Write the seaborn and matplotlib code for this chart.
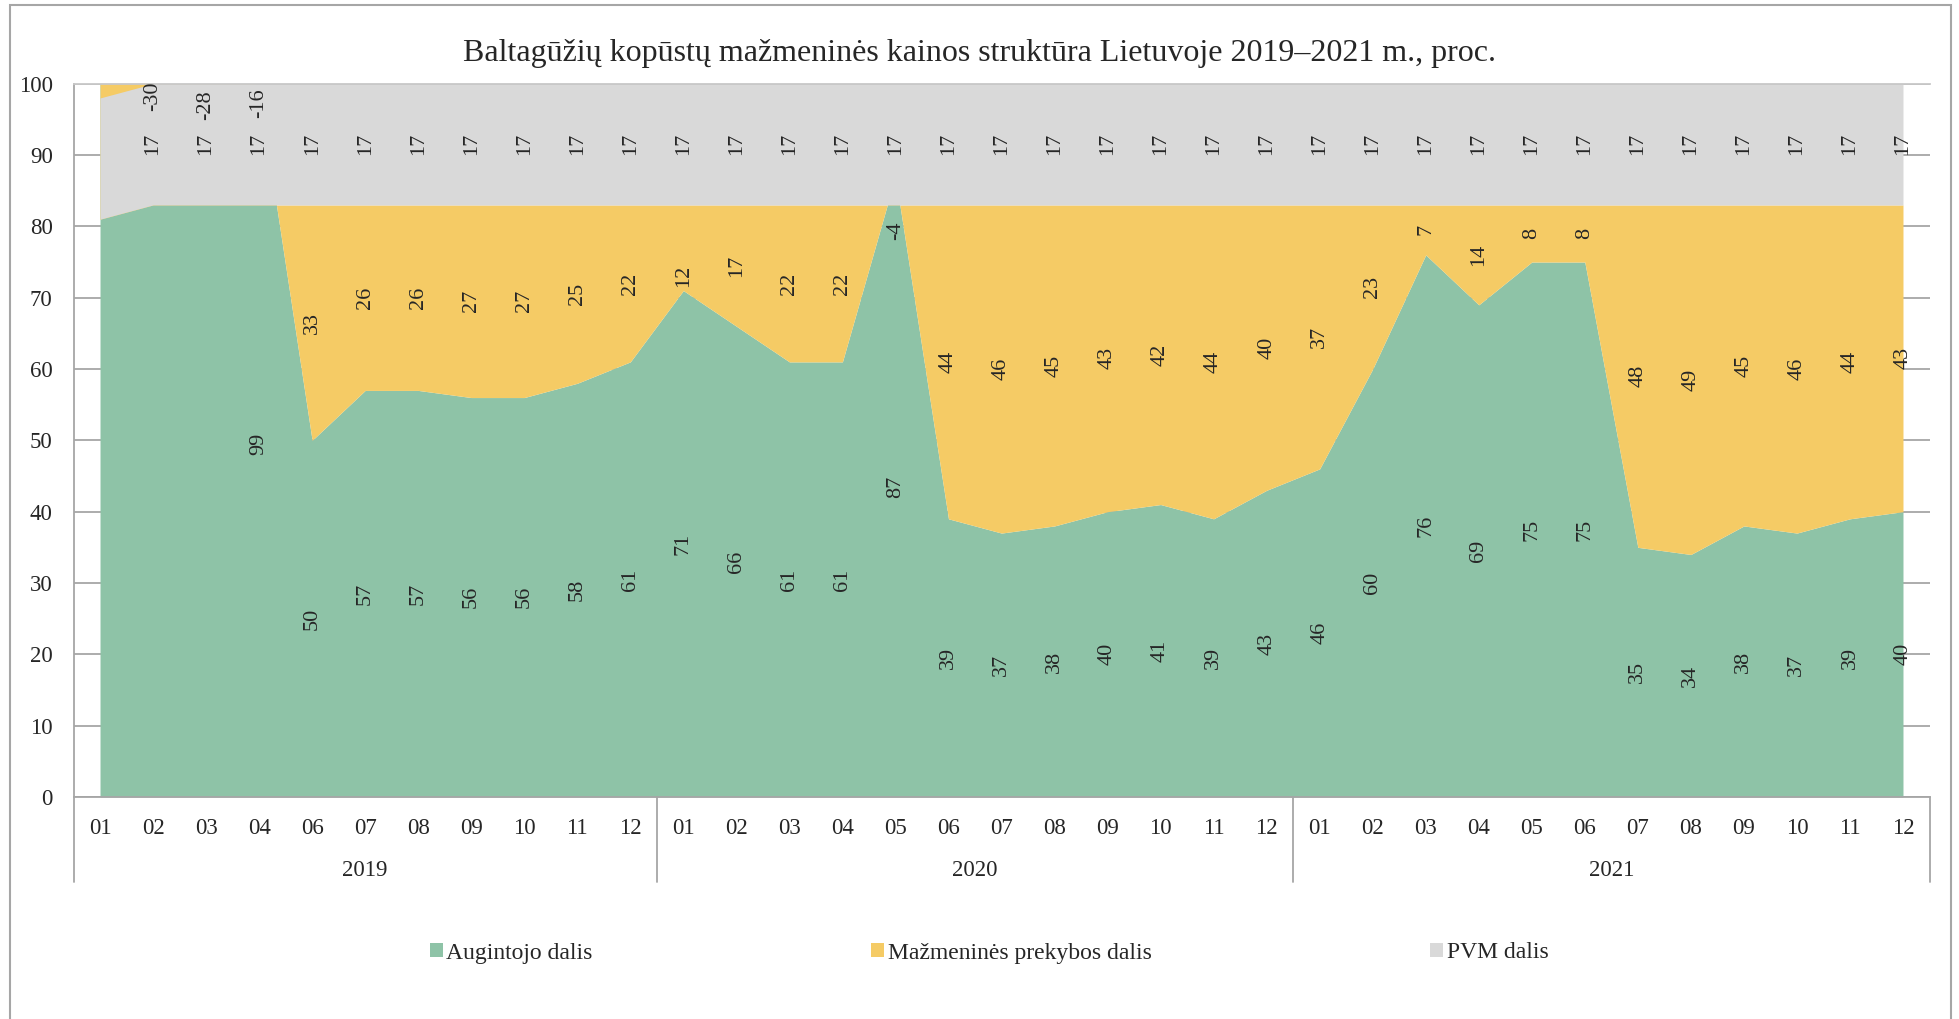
import numpy as np
import matplotlib
matplotlib.use("Agg")
import matplotlib.pyplot as plt
import matplotlib.transforms as mtransforms
from matplotlib.patches import Patch, Rectangle
import seaborn as sns

# ---------------- data ----------------
months = ["01", "02", "03", "04", "06", "07", "08", "09", "10", "11", "12",
          "01", "02", "03", "04", "05", "06", "07", "08", "09", "10", "11", "12",
          "01", "02", "03", "04", "05", "06", "07", "08", "09", "10", "11", "12"]
years = ["2019", "2020", "2021"]
year_sizes = [11, 12, 12]

grower = [116, 113, 111, 99, 50, 57, 57, 56, 56, 58, 61,
          71, 66, 61, 61, 87, 39, 37, 38, 40, 41, 39, 43,
          46, 60, 76, 69, 75, 75, 35, 34, 38, 37, 39, 40]
retail = [-35, -30, -28, -16, 33, 26, 26, 27, 27, 25, 22,
          12, 17, 22, 22, -4, 44, 46, 45, 43, 42, 44, 40,
          37, 23, 7, 14, 8, 8, 48, 49, 45, 46, 44, 43]
vat = [17, 17, 17, 17, 17, 17, 17, 17, 17, 17, 17,
       17, 17, 17, 17, 17, 17, 17, 17, 17, 17, 17, 17,
       17, 17, 17, 17, 17, 17, 17, 17, 17, 17, 17, 17]
series_names = ["Augintojo dalis", "Mažmeninės prekybos dalis", "PVM dalis"]
title = "Baltagūžių kopūstų mažmeninės kainos struktūra Lietuvoje 2019–2021 m., proc."

# ---------------- style ----------------
sns.set_theme(style="white")
plt.rcParams['font.family'] = ['Liberation Serif', 'DejaVu Serif']
colors = ["#8EC3A7", "#F5CB65", "#D9D9D9"]
axis_gray = "#A6A6A6"

W, H = 1959, 1019
fig = plt.figure(figsize=(W / 100, H / 100), dpi=100)
left_px, right_px, top_px, bottom_px = 73.5, 1929.5, 83.7, 797
ax = fig.add_axes([left_px / W, 1 - bottom_px / H,
                   (right_px - left_px) / W, (bottom_px - top_px) / H])

x = np.arange(len(months))
ax.stackplot(x, grower, retail, vat, colors=colors, linewidth=0, zorder=2,
             antialiased=True)

ax.set_xlim(-0.5, len(months) - 0.5)
ax.set_ylim(0, 100)
ax.set_yticks(range(0, 101, 10))
ax.set_xticks(x)
ax.set_xticklabels(months)
ax.yaxis.grid(True, color=axis_gray, lw=1.3, zorder=0)
ax.xaxis.grid(False)
ax.set_axisbelow(True)
ax.tick_params(axis='y', length=0, pad=15, labelsize=16.5)
ax.tick_params(axis='x', length=0, pad=15, labelsize=16.5)
for s in ["left", "bottom", "top"]:
    ax.spines[s].set_visible(True)
    ax.spines[s].set_color(axis_gray)
    ax.spines[s].set_linewidth(1.3)
ax.spines["top"].set_color("#C8C8C8")
ax.spines["right"].set_visible(False)
ax.set_facecolor("white")

# category group axis
trans = mtransforms.blended_transform_factory(ax.transData, ax.transAxes)
sep_bottom = -(882 - bottom_px) / (bottom_px - top_px)
year_y = -(871 - bottom_px) / (bottom_px - top_px)
start = 0
bounds = [-0.5]
for yr, n in zip(years, year_sizes):
    ax.text(start + (n - 1) / 2, year_y, yr, transform=trans, ha='center',
            va='center', fontsize=16.5)
    start += n
    bounds.append(start - 0.5)
for b in bounds:
    ax.plot([b, b], [0, sep_bottom], transform=trans, color=axis_gray, lw=1.3,
            clip_on=False, zorder=5)

# data labels
label_override = {(1, 1): 98.3, (1, 2): 97.0, (1, 3): 97.3, (1, 15): 79.4,
                  (1, 11): 73.0}
stack = [grower, retail, vat]
cum_prev = np.zeros(len(months))
for si, vals in enumerate(stack):
    vals = np.array(vals, dtype=float)
    cum = cum_prev + vals
    for j in range(1, len(months)):
        if vals[j] > 100:
            continue
        y = label_override.get((si, j), (cum_prev[j] + cum[j]) / 2)
        ax.text(x[j], y, f"{int(vals[j])}", rotation=90, ha='center',
                va='center', fontsize=16, zorder=6, clip_on=False)
    cum_prev = cum

# legend
handles = [Patch(facecolor=c, edgecolor='none') for c in colors]
fig.legend(handles, series_names, loc='center', bbox_to_anchor=(0.505, 1 - 953 / H),
           ncol=3, frameon=False, fontsize=17, handlelength=0.55,
           handleheight=0.55, handletextpad=0.15, columnspacing=11.8)

# title
fig.text(0.5, 1 - 54 / H, title, ha='center', va='center', fontsize=23)

# outer border
fig.patches.append(Rectangle((10 / W, -0.01), (1951 - 10) / W, 1.005 - 5 / H + 0.005,
                             transform=fig.transFigure, fill=False,
                             edgecolor=axis_gray, lw=1.5))

fig.savefig("out.png", dpi=100)
